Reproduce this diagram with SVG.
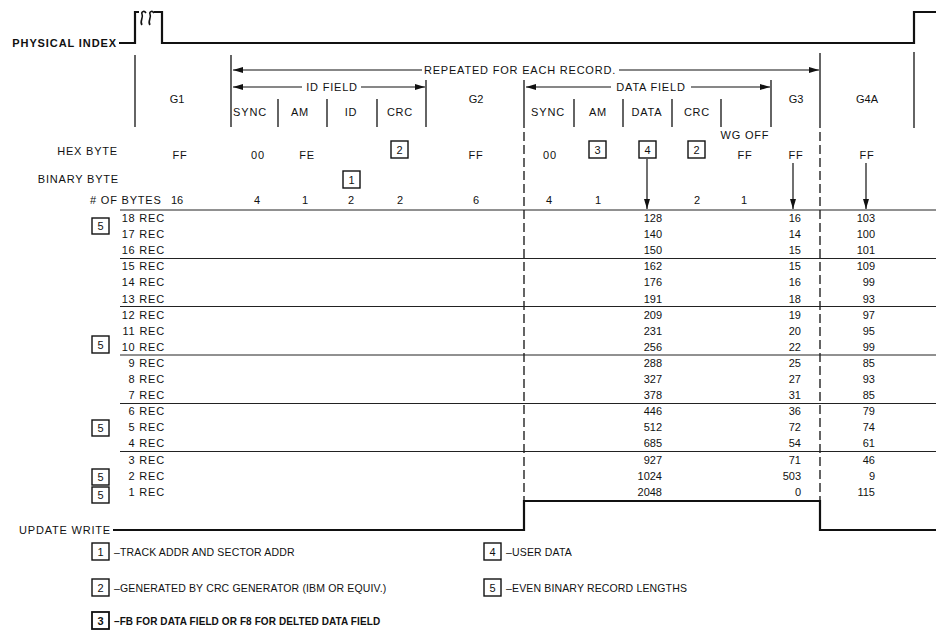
<svg xmlns="http://www.w3.org/2000/svg" width="936" height="633" viewBox="0 0 936 633">
<style>
text{font-family:"Liberation Sans",Arial,sans-serif;font-size:11px;fill:#111}
.c{text-anchor:middle}
.e{text-anchor:end}
.ls{letter-spacing:0.8px}
.lg{font-size:10.5px;letter-spacing:0.15px}
.lgb{font-size:10px;letter-spacing:0.1px;font-weight:bold}
.b{font-weight:bold}
.wave{fill:none;stroke:#111;stroke-width:2.2}
.sq{fill:none;stroke:#111;stroke-width:1.6}
.v{stroke:#111;stroke-width:1.3;fill:none}
.h{stroke:#222;stroke-width:1}
.d{stroke:#111;stroke-width:1.3;stroke-dasharray:9 4;fill:none}
.box{fill:#fff;stroke:#111;stroke-width:1.4}
.ar{stroke:#111;stroke-width:1.2;fill:none}
</style>
<defs>
<marker id="ah" viewBox="0 0 10 6" refX="10" refY="3" markerWidth="10" markerHeight="6" markerUnits="userSpaceOnUse" orient="auto-start-reverse"><path d="M0,0 L10,3 L0,6 z" fill="#111"/></marker>
</defs>
<rect width="936" height="633" fill="#fff"/>

<g id="physical-index">
<text x="117" y="47" class="e b" style="letter-spacing:0.9px">PHYSICAL INDEX</text>
<path class="wave" d="M119,43 H135 V12 H139"/>
<path class="sq" d="M142,25 C139,21 144,18 142,14 C141,12 144,10 146,13"/>
<path class="sq" d="M150,25 C147,21 152,18 150,14 C149,12 152,10 154,13"/>
<path class="wave" d="M154,12 H162 V43 H914 V12 H936"/>
</g>

<g id="update-write">
<text x="111" y="534" class="e ls">UPDATE WRITE</text>
<path class="wave" d="M113,530 H524 V501 H820 V530 H936"/>
</g>

<g id="field-lines">
<line class="v" x1="135" y1="55" x2="135" y2="127"/>
<line class="v" x1="231" y1="55" x2="231" y2="127"/>
<line class="v" x1="278" y1="99" x2="278" y2="127"/>
<line class="v" x1="327" y1="99" x2="327" y2="127"/>
<line class="v" x1="377" y1="99" x2="377" y2="127"/>
<line class="v" x1="426" y1="80" x2="426" y2="127"/>
<line class="v" x1="524" y1="80" x2="524" y2="128"/>
<line class="d" x1="524" y1="132" x2="524" y2="501"/>
<line class="v" x1="574" y1="99" x2="574" y2="127"/>
<line class="v" x1="623" y1="99" x2="623" y2="127"/>
<line class="v" x1="672" y1="99" x2="672" y2="127"/>
<line class="v" x1="721" y1="99" x2="721" y2="127"/>
<line class="v" x1="771" y1="80" x2="771" y2="127"/>
<line class="v" x1="820" y1="53" x2="820" y2="128"/>
<line class="d" x1="820" y1="132" x2="820" y2="501"/>
<line class="v" x1="914" y1="52" x2="914" y2="128"/>
</g>

<g id="connectors">
<line class="ar" x1="233" y1="70" x2="422" y2="70" marker-start="url(#ah)"/>
<line class="ar" x1="619" y1="70" x2="819" y2="70" marker-end="url(#ah)"/>
<line class="ar" x1="233" y1="87" x2="302" y2="87" marker-start="url(#ah)"/>
<line class="ar" x1="361" y1="87" x2="425" y2="87" marker-end="url(#ah)"/>
<line class="ar" x1="526" y1="87" x2="611" y2="87" marker-start="url(#ah)"/>
<line class="ar" x1="691" y1="87" x2="770" y2="87" marker-end="url(#ah)"/>
<line class="ar" x1="647" y1="159" x2="647" y2="209" marker-end="url(#ah)"/>
<line class="ar" x1="793" y1="163" x2="793" y2="209" marker-end="url(#ah)"/>
<line class="ar" x1="866" y1="163" x2="866" y2="209" marker-end="url(#ah)"/>
</g>

<g id="header-labels">
<text x="520" y="74" class="c ls">REPEATED FOR EACH RECORD.</text>
<text x="332" y="91" class="c ls">ID FIELD</text>
<text x="651" y="91" class="c ls">DATA FIELD</text>
<text x="177" y="103" class="c">G1</text>
<text x="250" y="116" class="c ls">SYNC</text>
<text x="300" y="116" class="c ls">AM</text>
<text x="351" y="116" class="c ls">ID</text>
<text x="400" y="116" class="c ls">CRC</text>
<text x="476" y="103" class="c">G2</text>
<text x="548" y="116" class="c ls">SYNC</text>
<text x="598" y="116" class="c ls">AM</text>
<text x="647" y="116" class="c ls">DATA</text>
<text x="697" y="116" class="c ls">CRC</text>
<text x="796" y="103" class="c">G3</text>
<text x="867" y="103" class="c">G4A</text>
<text x="745" y="139" class="c ls">WG OFF</text>
</g>

<g id="hex-byte">
<text x="118" y="155" class="e ls">HEX BYTE</text>
<text x="180" y="159" class="c ls">FF</text>
<text x="258" y="159" class="c ls">00</text>
<text x="307" y="159" class="c ls">FE</text>
<rect class="box" x="391" y="141" width="17" height="17"/><text x="399.5" y="153.5" class="c">2</text>
<text x="476" y="159" class="c ls">FF</text>
<text x="550" y="159" class="c ls">00</text>
<rect class="box" x="589" y="141" width="17" height="17"/><text x="597.5" y="153.5" class="c">3</text>
<rect class="box" x="639" y="141" width="17" height="17"/><text x="647.5" y="153.5" class="c">4</text>
<rect class="box" x="688" y="141" width="17" height="17"/><text x="696.5" y="153.5" class="c">2</text>
<text x="745" y="159" class="c ls">FF</text>
<text x="796" y="159" class="c ls">FF</text>
<text x="867" y="159" class="c ls">FF</text>
</g>

<g id="binary-byte">
<text x="119" y="183" class="e ls">BINARY BYTE</text>
<rect class="box" x="343" y="171" width="17" height="17"/><text x="351.5" y="183.5" class="c">1</text>
</g>

<g id="num-bytes">
<text x="90" y="204" class="ls"># OF BYTES</text>
<text x="177" y="204" class="c">16</text>
<text x="257" y="204" class="c">4</text>
<text x="305" y="204" class="c">1</text>
<text x="351" y="204" class="c">2</text>
<text x="400" y="204" class="c">2</text>
<text x="476" y="204" class="c">6</text>
<text x="549" y="204" class="c">4</text>
<text x="598" y="204" class="c">1</text>
<text x="697" y="204" class="c">2</text>
<text x="744" y="204" class="c">1</text>
</g>

<g id="table-lines">
<line class="h" x1="120" y1="210" x2="936" y2="210"/>
<line class="h" x1="120" y1="258.5" x2="936" y2="258.5"/>
<line class="h" x1="120" y1="306.5" x2="936" y2="306.5"/>
<line class="h" x1="120" y1="355" x2="936" y2="355"/>
<line class="h" x1="120" y1="403.5" x2="936" y2="403.5"/>
<line class="h" x1="120" y1="451.5" x2="936" y2="451.5"/>
</g>

<g id="rec-boxes">
<rect class="box" x="92" y="218" width="17" height="16"/><text x="100.5" y="230" class="c">5</text>
<rect class="box" x="92" y="336" width="17" height="17"/><text x="100.5" y="348.5" class="c">5</text>
<rect class="box" x="92" y="420" width="17" height="16"/><text x="100.5" y="432" class="c">5</text>
<rect class="box" x="92" y="469" width="17" height="16"/><text x="100.5" y="481" class="c">5</text>
<rect class="box" x="92" y="487" width="17" height="16"/><text x="100.5" y="499" class="c">5</text>
</g>

<g id="rows">
<g id="r18"><text x="165" y="222" class="e ls">18 REC</text><text x="662" y="222" class="e">128</text><text x="801" y="222" class="e">16</text><text x="875" y="222" class="e">103</text></g>
<g id="r17"><text x="165" y="238.1" class="e ls">17 REC</text><text x="662" y="238.1" class="e">140</text><text x="801" y="238.1" class="e">14</text><text x="875" y="238.1" class="e">100</text></g>
<g id="r16"><text x="165" y="254.2" class="e ls">16 REC</text><text x="662" y="254.2" class="e">150</text><text x="801" y="254.2" class="e">15</text><text x="875" y="254.2" class="e">101</text></g>
<g id="r15"><text x="165" y="270.3" class="e ls">15 REC</text><text x="662" y="270.3" class="e">162</text><text x="801" y="270.3" class="e">15</text><text x="875" y="270.3" class="e">109</text></g>
<g id="r14"><text x="165" y="286.4" class="e ls">14 REC</text><text x="662" y="286.4" class="e">176</text><text x="801" y="286.4" class="e">16</text><text x="875" y="286.4" class="e">99</text></g>
<g id="r13"><text x="165" y="302.5" class="e ls">13 REC</text><text x="662" y="302.5" class="e">191</text><text x="801" y="302.5" class="e">18</text><text x="875" y="302.5" class="e">93</text></g>
<g id="r12"><text x="165" y="318.6" class="e ls">12 REC</text><text x="662" y="318.6" class="e">209</text><text x="801" y="318.6" class="e">19</text><text x="875" y="318.6" class="e">97</text></g>
<g id="r11"><text x="165" y="334.7" class="e ls">11 REC</text><text x="662" y="334.7" class="e">231</text><text x="801" y="334.7" class="e">20</text><text x="875" y="334.7" class="e">95</text></g>
<g id="r10"><text x="165" y="350.8" class="e ls">10 REC</text><text x="662" y="350.8" class="e">256</text><text x="801" y="350.8" class="e">22</text><text x="875" y="350.8" class="e">99</text></g>
<g id="r9"><text x="165" y="366.9" class="e ls">9 REC</text><text x="662" y="366.9" class="e">288</text><text x="801" y="366.9" class="e">25</text><text x="875" y="366.9" class="e">85</text></g>
<g id="r8"><text x="165" y="383" class="e ls">8 REC</text><text x="662" y="383" class="e">327</text><text x="801" y="383" class="e">27</text><text x="875" y="383" class="e">93</text></g>
<g id="r7"><text x="165" y="399.1" class="e ls">7 REC</text><text x="662" y="399.1" class="e">378</text><text x="801" y="399.1" class="e">31</text><text x="875" y="399.1" class="e">85</text></g>
<g id="r6"><text x="165" y="415.2" class="e ls">6 REC</text><text x="662" y="415.2" class="e">446</text><text x="801" y="415.2" class="e">36</text><text x="875" y="415.2" class="e">79</text></g>
<g id="r5"><text x="165" y="431.3" class="e ls">5 REC</text><text x="662" y="431.3" class="e">512</text><text x="801" y="431.3" class="e">72</text><text x="875" y="431.3" class="e">74</text></g>
<g id="r4"><text x="165" y="447.4" class="e ls">4 REC</text><text x="662" y="447.4" class="e">685</text><text x="801" y="447.4" class="e">54</text><text x="875" y="447.4" class="e">61</text></g>
<g id="r3"><text x="165" y="463.5" class="e ls">3 REC</text><text x="662" y="463.5" class="e">927</text><text x="801" y="463.5" class="e">71</text><text x="875" y="463.5" class="e">46</text></g>
<g id="r2"><text x="165" y="479.6" class="e ls">2 REC</text><text x="662" y="479.6" class="e">1024</text><text x="801" y="479.6" class="e">503</text><text x="875" y="479.6" class="e">9</text></g>
<g id="r1"><text x="165" y="495.7" class="e ls">1 REC</text><text x="662" y="495.7" class="e">2048</text><text x="801" y="495.7" class="e">0</text><text x="875" y="495.7" class="e">115</text></g>
</g>

<g id="legend-1"><rect class="box" x="92" y="543" width="17" height="17"/><text x="100.5" y="555.5" class="c">1</text><text x="114" y="555.5" class="lg">–TRACK ADDR AND SECTOR ADDR</text></g>
<g id="legend-2"><rect class="box" x="92" y="579" width="17" height="17"/><text x="100.5" y="591.5" class="c">2</text><text x="114" y="591.5" class="lg">–GENERATED BY CRC GENERATOR (IBM OR EQUIV.)</text></g>
<g id="legend-3"><rect class="box" x="92" y="612" width="17" height="17" style="stroke-width:1.8"/><text x="100.5" y="624.5" class="c b">3</text><text x="114" y="624.5" class="lgb">–FB FOR DATA FIELD OR F8 FOR DELTED DATA FIELD</text></g>
<g id="legend-4"><rect class="box" x="484" y="543" width="17" height="17"/><text x="492.5" y="555.5" class="c">4</text><text x="506" y="555.5" class="lg">–USER DATA</text></g>
<g id="legend-5"><rect class="box" x="484" y="579" width="17" height="17"/><text x="492.5" y="591.5" class="c">5</text><text x="506" y="591.5" class="lg">–EVEN BINARY RECORD LENGTHS</text></g>
</svg>
